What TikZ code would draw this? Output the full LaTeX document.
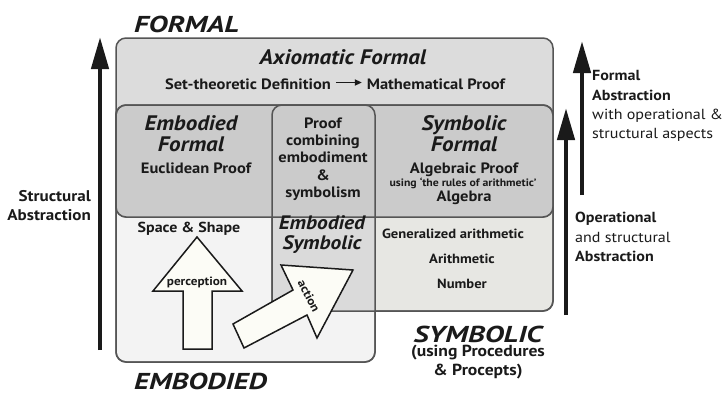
\documentclass[tikz,border=0pt]{standalone}
\usepackage{fontspec}
\setmainfont{PT Sans}[FakeStretch=1.1]
\newfontfamily\titlefont{PT Sans}[FakeStretch=1.28]
\usetikzlibrary{arrows.meta}
\definecolor{formalfill}{HTML}{DCDCDC}
\definecolor{midfill}{HTML}{CBCBCB}
\definecolor{embfill}{HTML}{F3F3F3}
\definecolor{symfill}{HTML}{E7E7E3}
\definecolor{ovfill}{HTML}{DADADA}
\definecolor{edge}{HTML}{555555}
\definecolor{ink}{HTML}{1A1A1A}
\definecolor{arrowfill}{HTML}{FCFCF6}
\tikzset{
  box/.style={draw=edge, line width=1.5pt, rounded corners=10pt},
  bigarrow/.style={line width=4.5pt, draw=ink, -{Triangle[length=32pt,width=17pt]}},
  blockarrow/.style={draw=ink, line width=1.5pt, fill=arrowfill, line join=miter},
  title/.style={font=\titlefont\fontsize{23}{25}\selectfont\bfseries\itshape, text=ink, inner sep=0pt},
  head/.style={font=\fontsize{21}{21}\selectfont\bfseries\itshape, text=ink, align=center, inner sep=0pt},
  lab/.style={font=\fontsize{15}{17.3}\selectfont\bfseries, text=ink, align=center, inner sep=0pt},
  small/.style={font=\fontsize{13.3}{15}\selectfont\bfseries, text=ink, align=center, inner sep=0pt},
  side/.style={font=\fontsize{14.6}{19.3}\selectfont, text=ink, align=left, inner sep=0pt},
}
\begin{document}
\begin{tikzpicture}[x=1pt,y=-1pt]
\useasboundingbox (0,0) rectangle (723,394);
% lower boxes
\path[box, fill=embfill] (116,105) rectangle (375,362);
\path[box, fill=symfill] (272,105) rectangle (553,311);
\begin{scope}
  \clip[rounded corners=10pt] (116,105) rectangle (375,362);
  \fill[ovfill, rounded corners=10pt] (272,105) rectangle (553,311);
\end{scope}
% formal boxes
\path[box, fill=formalfill] (116,38) rectangle (553,217);
\path[box, fill=midfill] (116,105) rectangle (553,217);
\path[box] (116,105) rectangle (375,362);
\path[box] (272,105) rectangle (553,311);

% big vertical arrows
\coordinate (lb) at (100,350); \coordinate (lt) at (100,37);
\coordinate (rb1) at (582,195); \coordinate (rt1) at (582,41);
\coordinate (rb2) at (566,315); \coordinate (rt2) at (566,108);
\draw[bigarrow] (lb) -- (lt);
\draw[bigarrow] (rb1) -- (rt1);
\draw[bigarrow] (rb2) -- (rt2);

% block arrows
\draw[blockarrow] (183,349) -- (183,291) -- (153,291) -- (197,237) -- (242,291) -- (212,291) -- (212,349) -- cycle;
\node[small, font=\fontsize{12}{14}\selectfont\bfseries] (perc) at (197,282) {perception};
\draw[blockarrow] (233,324) -- (293,290) -- (281,265) -- (353,270) -- (317,338) -- (307,315) -- (244,348) -- cycle;
\node[small, font=\fontsize{12}{14}\selectfont\bfseries, rotate=-63] (act) at (309,296) {action};

% titles
\node[title, anchor=west] (formal) at (134,24) {FORMAL};
\node[title, anchor=west] (emb) at (134,381) {EMBODIED};
\node[title] (sym) at (478,334) {SYMBOLIC};
\node[lab, font=\fontsize{16}{19}\selectfont\bfseries] (symsub) at (478,362) {(using Procedures\\\& Procepts)};

% formal area
\node[head] (axf) at (343,57) {Axiomatic Formal};
\node[lab] (set) at (335,84) {Set-theoretic Definition \raisebox{0.5ex}{\tikz[x=1pt,y=1pt]\draw[line width=1.6pt,-{Triangle[length=7pt,width=6pt]}] (0,0) -- (26,0);} Mathematical Proof};
\node[head] (ef) at (191,134) {Embodied\\Formal};
\node[lab] (eucl) at (196,168) {Euclidean Proof};
\node[lab] (pc) at (323,159) {Proof\\combining\\embodiment\\\&\\symbolism};
\node[head] (sf) at (464,134) {Symbolic\\Formal};
\node[lab] (alg) at (464,170) {Algebraic Proof};
\node[lab, font=\fontsize{10.7}{12}\selectfont\bfseries] (rules) at (463,183.5) {using `the rules of arithmetic'};
\node[lab] (algebra) at (464,198) {Algebra};

% lower area
\node[lab, font=\fontsize{14.5}{17}\selectfont\bfseries] (ss) at (189,229) {Space \& Shape};
\node[head, font=\fontsize{19.5}{20}\selectfont\bfseries\itshape] (es) at (322,235) {Embodied\\Symbolic};
\node[small] (ga) at (453,234) {Generalized arithmetic};
\node[small] (ar) at (462,259) {Arithmetic};
\node[small] (num) at (462,284) {Number};

% side labels
\node[lab, align=right, anchor=east, font=\fontsize{15.5}{19}\selectfont\bfseries] (sa) at (91,206) {Structural\\Abstraction};
\node[side, anchor=west] (fa) at (592,106) {\textbf{Formal}\\\textbf{Abstraction}\\with operational \&\\structural aspects};
\node[side, anchor=west] (oa) at (575,237) {\textbf{Operational}\\and structural\\\textbf{Abstraction}};
\end{tikzpicture}
\end{document}
